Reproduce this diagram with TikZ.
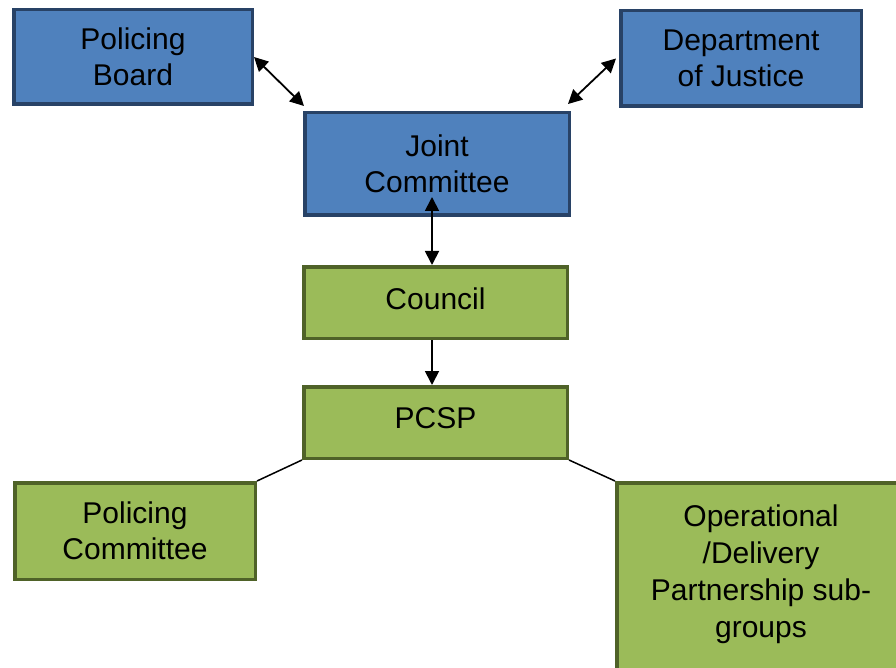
\documentclass[tikz,border=0pt]{standalone}
\usepackage{fontspec}
\setmainfont{Liberation Sans}
\usetikzlibrary{arrows.meta}
\definecolor{bluefill}{RGB}{79,129,189}
\definecolor{blueline}{RGB}{40,66,102}
\definecolor{greenfill}{RGB}{155,187,89}
\definecolor{greenline}{RGB}{79,98,40}

\begin{document}
\begin{tikzpicture}[x=1pt, y=-1pt]
\tikzset{every node/.style={font=\fontsize{30}{36}\selectfont, align=center, inner sep=0pt}}
\tikzset{bluebox/.style={draw=blueline, fill=bluefill, line width=3.5pt}}
\tikzset{greenbox/.style={draw=greenline, fill=greenfill, line width=3.5pt}}
\tikzset{link/.style={line width=1.8pt, -{Triangle[length=14pt,width=14pt]}}}
\tikzset{dlink/.style={line width=1.8pt, {Triangle[length=14pt,width=14pt]}-{Triangle[length=14pt,width=14pt]}}}
\clip (0,0) rectangle (896,668);
\node[bluebox, minimum width=238.5pt, minimum height=94.5pt] (board) at (133,57) {Policing\\Board};
\node[bluebox, minimum width=240.5pt, minimum height=95.5pt] (justice) at (741,58.5) {Department\\of Justice};
\node[bluebox, minimum width=264.5pt, minimum height=102.5pt] (joint) at (437,164) {Joint\\Committee};
\node[greenbox, minimum width=263.5pt, minimum height=71.5pt, text depth=8pt] (council) at (435.5,302.5) {Council};
\node[greenbox, minimum width=263.5pt, minimum height=71.5pt, text depth=8pt] (pcsp) at (435.5,422.5) {PCSP};
\node[greenbox, minimum width=240.5pt, minimum height=96.5pt] (polcom) at (135,531) {Policing\\Committee};
\node[greenbox, minimum width=288.5pt, minimum height=217.5pt] (opbox) at (761,591.5) {};
\node[font=\fontsize{30}{37}\selectfont] (optext) at (761,574) {Operational\\/Delivery\\Partnership sub-\\groups};
\draw[dlink] (board.east) -- ([xshift=1pt,yshift=5pt]joint.north west);
\draw[dlink] ([xshift=-3pt]justice.west) -- ([xshift=-3pt,yshift=7pt]joint.north east);
\draw[dlink] ([xshift=-3.5pt]council.north) -- ([xshift=-5pt,yshift=20pt]joint.south);
\draw[link] ([xshift=-3.5pt]council.south) -- ([xshift=-3.5pt]pcsp.north);
\draw[line width=1.5pt] (pcsp.south west) -- (polcom.north east);
\draw[line width=1.5pt] (pcsp.south east) -- (opbox.north west);
\end{tikzpicture}
\end{document}
